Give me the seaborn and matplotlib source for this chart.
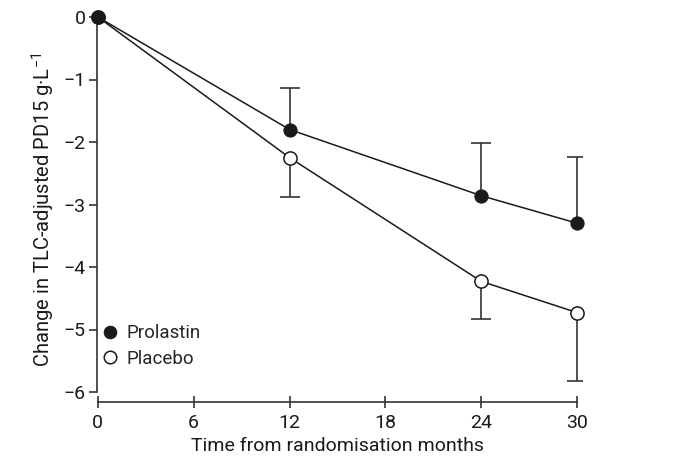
import matplotlib
matplotlib.use("Agg")
import matplotlib.pyplot as plt
import numpy as np
import pandas as pd
import seaborn as sns

# Data
months = [0, 12, 24, 30]
prolastin = [0.0, -1.80, -2.86, -3.30]
prolastin_upper = [0.0, -1.14, -2.02, -2.24]   # top of one-sided error bar
placebo = [0.0, -2.25, -4.23, -4.73]
placebo_lower = [0.0, -2.88, -4.83, -5.83]     # bottom of one-sided error bar

sns.set_theme(style="ticks")
plt.rcParams['font.family'] = ['Roboto', 'DejaVu Sans']
plt.rcParams['mathtext.fontset'] = 'custom'
plt.rcParams['mathtext.rm'] = 'Roboto'
plt.rcParams['mathtext.it'] = 'Roboto'

df = pd.DataFrame({
    "month": months * 2,
    "change": prolastin + placebo,
    "group": ["Prolastin"] * 4 + ["Placebo"] * 4,
})

fig = plt.figure(figsize=(6.84, 4.59), dpi=100)
ax = fig.add_axes([93 / 684, 1 - 402 / 459, 489 / 684, 385 / 459])

# one-sided error bars: stem from the mean to the limit, cap only at the limit
ecol = "#333333"
ax.vlines(months[1:], prolastin[1:], prolastin_upper[1:], color=ecol, lw=1.2, zorder=1)
ax.plot(months[1:], prolastin_upper[1:], ls="none", marker="_", markersize=14,
        markeredgewidth=1.2, color=ecol, zorder=1)
ax.vlines(months[1:], placebo[1:], placebo_lower[1:], color=ecol, lw=1.2, zorder=1)
ax.plot(months[1:], placebo_lower[1:], ls="none", marker="_", markersize=14,
        markeredgewidth=1.2, color=ecol, zorder=1)

sns.lineplot(data=df[df.group == "Placebo"], x="month", y="change", ax=ax,
             color="#1a1a1a", lw=1.1, marker="o", markersize=9.5,
             markerfacecolor="white", markeredgecolor="#1a1a1a", markeredgewidth=1.1,
             label="Placebo", clip_on=False, zorder=3)
sns.lineplot(data=df[df.group == "Prolastin"], x="month", y="change", ax=ax,
             color="#1a1a1a", lw=1.1, marker="o", markersize=9.5,
             markerfacecolor="#1a1a1a", markeredgecolor="#1a1a1a",
             label="Prolastin", clip_on=False, zorder=4)

ax.set_xlim(-0.3, 30.3)
ax.set_ylim(-6.16, 0.0)
ax.set_xticks([0, 6, 12, 18, 24, 30])
ax.set_yticks([0, -1, -2, -3, -4, -5, -6])
ax.set_yticklabels(["0", "\u22121", "\u22122", "\u22123", "\u22124", "\u22125", "\u22126"])

ax.spines["top"].set_visible(False)
ax.spines["right"].set_visible(False)
ax.spines["left"].set_bounds(-6, 0)
ax.spines["left"].set_position(("axes", 0.008))
ax.spines["bottom"].set_bounds(0, 30)
for s in ["left", "bottom"]:
    ax.spines[s].set_color("#333333")
    ax.spines[s].set_linewidth(1.2)

ax.tick_params(axis="y", direction="out", length=6, width=1.2, color="#333333",
               labelsize=14, pad=2, labelcolor="#1a1a1a")
ax.tick_params(axis="x", direction="inout", length=8, width=1.2, color="#333333",
               labelsize=14, pad=5, labelcolor="#1a1a1a")

ax.set_xlabel("Time from randomisation months", fontsize=14, color="#1a1a1a", labelpad=3)
ax.set_ylabel("Change in TLC-adjusted PD15 g\u00b7L$^{-1}$", fontsize=14.5,
              color="#1a1a1a", labelpad=5)

handles, labels = ax.get_legend_handles_labels()
order = [labels.index("Prolastin"), labels.index("Placebo")]
leg = ax.legend([handles[i] for i in order], [labels[i] for i in order],
                loc="lower left", bbox_to_anchor=(0.0, 0.045), frameon=False,
                fontsize=13.5, handlelength=0, handletextpad=0.9, labelspacing=0.4,
                markerscale=0.95)
for h in leg.legend_handles:
    h.set_linestyle("none")

fig.savefig("out.png", dpi=100)
